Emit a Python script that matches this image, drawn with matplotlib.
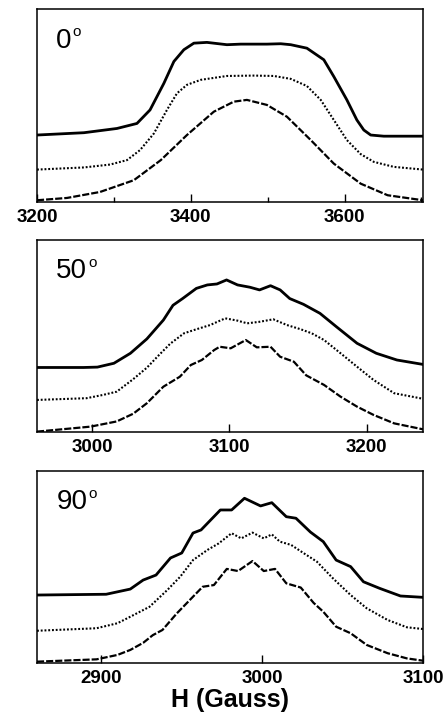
import matplotlib.pyplot as plt

plt.rcParams['font.family'] = ['Liberation Sans', 'DejaVu Sans']

# ---- panel 1 : 0 deg ----
x0_solid = [3200, 3261, 3304, 3330, 3347, 3365, 3378, 3391, 3404, 3421, 3447, 3465,
            3499, 3517, 3530, 3551, 3573, 3586, 3603, 3616, 3625, 3634, 3651, 3702]
y0_solid = [34.7, 35.9, 38.1, 40.7, 47.7, 61.5, 72.8, 78.9, 82.3, 82.7, 81.5, 81.8,
            81.8, 82.0, 81.5, 79.7, 73.7, 65.0, 52.9, 42.5, 37.3, 34.7, 34.1, 34.1]
x0_dot = [3200, 3261, 3295, 3317, 3334, 3352, 3369, 3382, 3395, 3413, 3447,
          3482, 3508, 3530, 3551, 3569, 3586, 3603, 3621, 3638, 3664, 3702]
y0_dot = [16.8, 17.9, 19.4, 21.7, 26.9, 35.5, 47.7, 56.3, 60.7, 63.3, 65.3,
          65.5, 65.3, 63.8, 60.1, 52.9, 42.5, 32.1, 24.8, 20.8, 18.2, 16.8]
x0_dash = [3200, 3239, 3282, 3326, 3361, 3395, 3430, 3456, 3473, 3499, 3525,
           3556, 3586, 3621, 3656, 3702]
y0_dash = [0.9, 2.1, 5.2, 11.3, 21.7, 34.7, 46.8, 52.0, 52.9, 50.3, 44.2,
           32.1, 19.9, 9.5, 3.5, 0.9]

# ---- panel 2 : 50 deg ----
x50_solid = [2960, 2994, 3004, 3016, 3028, 3040, 3052, 3059, 3066, 3076, 3084, 3091,
             3098, 3106, 3115, 3122, 3130, 3137, 3144, 3154, 3166, 3178, 3193, 3207,
             3222, 3241]
y50_solid = [33.6, 33.6, 33.8, 35.8, 41.0, 48.5, 58.3, 66.0, 69.5, 74.8, 76.6, 77.1,
             79.2, 76.6, 75.4, 74.0, 76.2, 74.0, 69.5, 66.5, 61.8, 54.8, 46.2, 41.0,
             37.5, 35.2]
x50_dot = [2960, 2996, 3008, 3018, 3030, 3040, 3048, 3057, 3067, 3076, 3086, 3097,
           3106, 3113, 3122, 3132, 3142, 3152, 3160, 3169, 3181, 3193, 3205, 3220, 3241]
y50_dot = [16.7, 17.6, 19.3, 21.0, 27.5, 33.5, 39.5, 46.0, 51.4, 53.5, 55.7, 59.2,
           58.0, 56.6, 57.4, 58.7, 55.7, 53.5, 51.4, 47.9, 41.0, 34.0, 27.1, 20.2, 17.3]
x50_dash = [2960, 2999, 3018, 3030, 3040, 3052, 3064, 3072, 3080, 3089, 3093, 3101,
            3112, 3120, 3130, 3137, 3147, 3156, 3169, 3181, 3193, 3205, 3220, 3241]
y50_dash = [0.2, 2.8, 5.5, 9.5, 15.0, 23.6, 28.8, 34.9, 37.5, 42.7, 44.4, 43.6,
            47.9, 44.1, 44.4, 39.2, 36.6, 29.5, 24.5, 18.4, 13.2, 8.9, 4.5, 1.4]

# ---- panel 3 : 90 deg ----
x90_solid = [2860, 2903, 2918, 2926, 2934, 2943, 2950, 2957, 2962, 2968, 2974, 2981,
             2989, 2999, 3006, 3015, 3021, 3030, 3038, 3046, 3055, 3063, 3073, 3086, 3100]
y90_solid = [35.4, 35.8, 38.5, 43.2, 45.8, 54.7, 57.3, 67.7, 69.3, 74.5, 79.7, 79.7,
             85.8, 81.8, 83.5, 76.2, 75.4, 68.2, 63.2, 53.6, 50.2, 42.3, 38.9, 34.9, 34.2]
x90_dot = [2860, 2897, 2910, 2918, 2930, 2941, 2949, 2957, 2966, 2973, 2981, 2987,
           2994, 3001, 3006, 3011, 3018, 3026, 3034, 3044, 3055, 3065, 3078, 3090, 3100]
y90_dot = [16.8, 18.1, 20.7, 24.1, 29.3, 38.0, 44.9, 53.6, 58.9, 62.3, 67.6, 64.9,
           67.9, 64.9, 67.0, 63.2, 61.5, 57.1, 52.8, 44.1, 35.4, 28.5, 22.4, 18.6, 17.7]
x90_dash = [2860, 2897, 2910, 2918, 2926, 2932, 2938, 2947, 2955, 2963, 2970, 2978,
            2985, 2994, 3001, 3008, 3015, 3024, 3032, 3038, 3046, 3055, 3065, 3078,
            3090, 3100]
y90_dash = [0.7, 1.9, 4.2, 6.8, 10.5, 14.5, 17.2, 25.9, 32.8, 39.7, 40.6, 49.0,
            47.9, 53.1, 47.9, 49.0, 41.5, 39.3, 31.3, 26.7, 18.9, 15.5, 9.4, 5.1,
            2.4, 1.2]

panels = [
    dict(label='0', xlim=(3200, 3702), major=[3200, 3400, 3600], minor=[3300, 3500, 3700],
         solid=(x0_solid, y0_solid), dot=(x0_dot, y0_dot), dash=(x0_dash, y0_dash)),
    dict(label='50', xlim=(2960, 3241), major=[3000, 3100, 3200], minor=[],
         solid=(x50_solid, y50_solid), dot=(x50_dot, y50_dot), dash=(x50_dash, y50_dash)),
    dict(label='90', xlim=(2860, 3100), major=[2900, 3000, 3100], minor=[],
         solid=(x90_solid, y90_solid), dot=(x90_dot, y90_dot), dash=(x90_dash, y90_dash)),
]

fig = plt.figure(figsize=(4.48, 7.19), dpi=100)
W, H = 448.0, 719.0
boxes = [(9, 202), (240, 432), (471, 663)]  # top/bottom in pixels

for p, (top, bot) in zip(panels, boxes):
    ax = fig.add_axes([37 / W, 1 - bot / H, 386 / W, (bot - top) / H])
    ax.plot(*p['solid'], color='black', lw=2.0, solid_joinstyle='round')
    ax.plot(*p['dot'], color='black', lw=1.5, linestyle=(0, (0.9, 0.9)))
    ax.plot(*p['dash'], color='black', lw=1.6, linestyle=(0, (3.2, 0.9)))
    ax.set_xlim(*p['xlim'])
    ax.set_ylim(0, 100)
    ax.set_yticks([])
    ax.set_xticks(p['major'])
    ax.set_xticks(p['minor'], minor=True)
    ax.tick_params(axis='x', which='major', direction='in', length=6, width=1,
                   pad=5, labelsize=13.5)
    ax.tick_params(axis='x', which='minor', direction='in', length=3.5, width=1)
    for lab in ax.get_xticklabels():
        lab.set_fontweight('bold')
    for s in ax.spines.values():
        s.set_linewidth(1.1)
    num = ax.text(0.05, 0.80, p['label'], transform=ax.transAxes, fontsize=20,
                  ha='left', va='baseline')
    ax.annotate('o', xy=(1, 1), xycoords=num, xytext=(0.5, 2),
                textcoords='offset points', fontsize=11, ha='left', va='top')

ax.set_xlabel('H (Gauss)', fontsize=18, fontweight='bold', labelpad=1)

fig.savefig('out.png', dpi=100)
